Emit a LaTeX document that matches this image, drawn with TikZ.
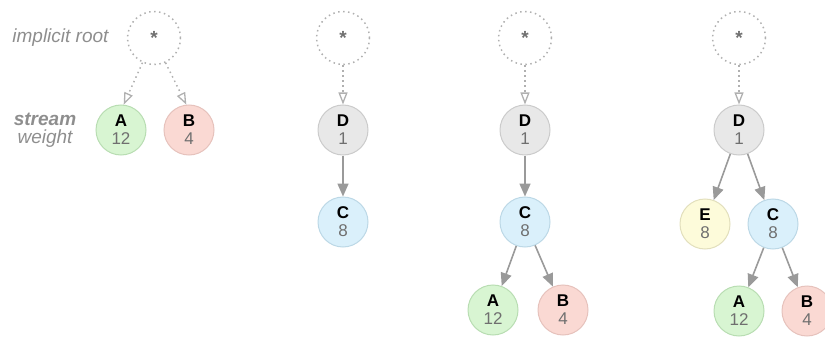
\documentclass[tikz,border=0pt]{standalone}
\usepackage{fontspec}
\setmainfont{Liberation Sans}
\usetikzlibrary{arrows.meta}
\definecolor{txtgray}{HTML}{8E8E8E}
\definecolor{numgray}{HTML}{6F6F6F}
\definecolor{edgegray}{HTML}{9A9A9A}
\definecolor{dotgray}{HTML}{B0B0B0}
\definecolor{fillA}{HTML}{D8F5D2}\definecolor{drawA}{HTML}{B8DDB2}
\definecolor{fillB}{HTML}{FAD9D3}\definecolor{drawB}{HTML}{E6C2BC}
\definecolor{fillC}{HTML}{DAF0FB}\definecolor{drawC}{HTML}{BCD8E6}
\definecolor{fillD}{HTML}{E8E8E8}\definecolor{drawD}{HTML}{CBCBCB}
\definecolor{fillE}{HTML}{FDFBDA}\definecolor{drawE}{HTML}{E2DFBC}
\tikzset{
  stream/.style={circle, minimum size=50pt, inner sep=0pt, line width=1pt, align=center,
    font=\fontsize{17}{19}\selectfont},
  sA/.style={stream, fill=fillA, draw=drawA},
  sB/.style={stream, fill=fillB, draw=drawB},
  sC/.style={stream, fill=fillC, draw=drawC},
  sD/.style={stream, fill=fillD, draw=drawD},
  sE/.style={stream, fill=fillE, draw=drawE},
  rootnode/.style={circle, minimum size=53pt, inner sep=0pt, draw=dotgray, line width=1.5pt,
    dash pattern=on 1.5pt off 3.5pt, text=numgray, font=\fontsize{19}{20}\bfseries\selectfont},
  dep/.style={draw=edgegray, line width=1.6pt, -{Triangle[length=13pt,width=11pt]}},
  impl/.style={draw=dotgray, line width=1.5pt, dash pattern=on 1.5pt off 3.5pt,
    -{Triangle[open,length=12pt,width=9pt,line width=1.3pt]}},
  lbl/.style={text=txtgray, font=\fontsize{19}{20}\selectfont\itshape}
}
\newcommand{\sw}[2]{\textbf{#1}\\[-1pt]{\color{numgray}#2}}
\begin{document}
\begin{tikzpicture}[x=1pt,y=-1pt]
\useasboundingbox (0,0) rectangle (825,337);
% labels
\node[lbl, anchor=east] (lroot) at (112,38) {implicit root};
\node[lbl, font=\fontsize{19}{20}\selectfont\itshape\bfseries] (lstream) at (45,119) {stream};
\node[lbl] (lweight) at (45,139) {weight};
% panel 1
\node[rootnode] (r1) at (154,38) {*};
\node[sA] (A1) at (121,130) {\sw{A}{12}};
\node[sB] (B1) at (189,130) {\sw{B}{4}};
\draw[impl] (r1.245) -- (A1.84);
\draw[impl] (r1.295) -- (B1.96);
% panel 2
\node[rootnode] (r2) at (343,38) {*};
\node[sD] (D2) at (343,130) {\sw{D}{1}};
\node[sC] (C2) at (343,222) {\sw{C}{8}};
\draw[impl] (r2) -- (D2);
\draw[dep] (D2) -- (C2);
% panel 3
\node[rootnode] (r3) at (525,38) {*};
\node[sD] (D3) at (525,130) {\sw{D}{1}};
\node[sC] (C3) at (525,222) {\sw{C}{8}};
\node[sA] (A3) at (493,310) {\sw{A}{12}};
\node[sB] (B3) at (563,310) {\sw{B}{4}};
\draw[impl] (r3) -- (D3);
\draw[dep] (D3) -- (C3);
\draw[dep] (C3) -- (A3);
\draw[dep] (C3) -- (B3);
% panel 4
\node[rootnode] (r4) at (739,38) {*};
\node[sD] (D4) at (739,130) {\sw{D}{1}};
\node[sE] (E4) at (705,224) {\sw{E}{8}};
\node[sC] (C4) at (773,224) {\sw{C}{8}};
\node[sA] (A4) at (739,311) {\sw{A}{12}};
\node[sB] (B4) at (807,311) {\sw{B}{4}};
\draw[impl] (r4) -- (D4);
\draw[dep] (D4) -- (E4);
\draw[dep] (D4) -- (C4);
\draw[dep] (C4) -- (A4);
\draw[dep] (C4) -- (B4);
\end{tikzpicture}
\end{document}
